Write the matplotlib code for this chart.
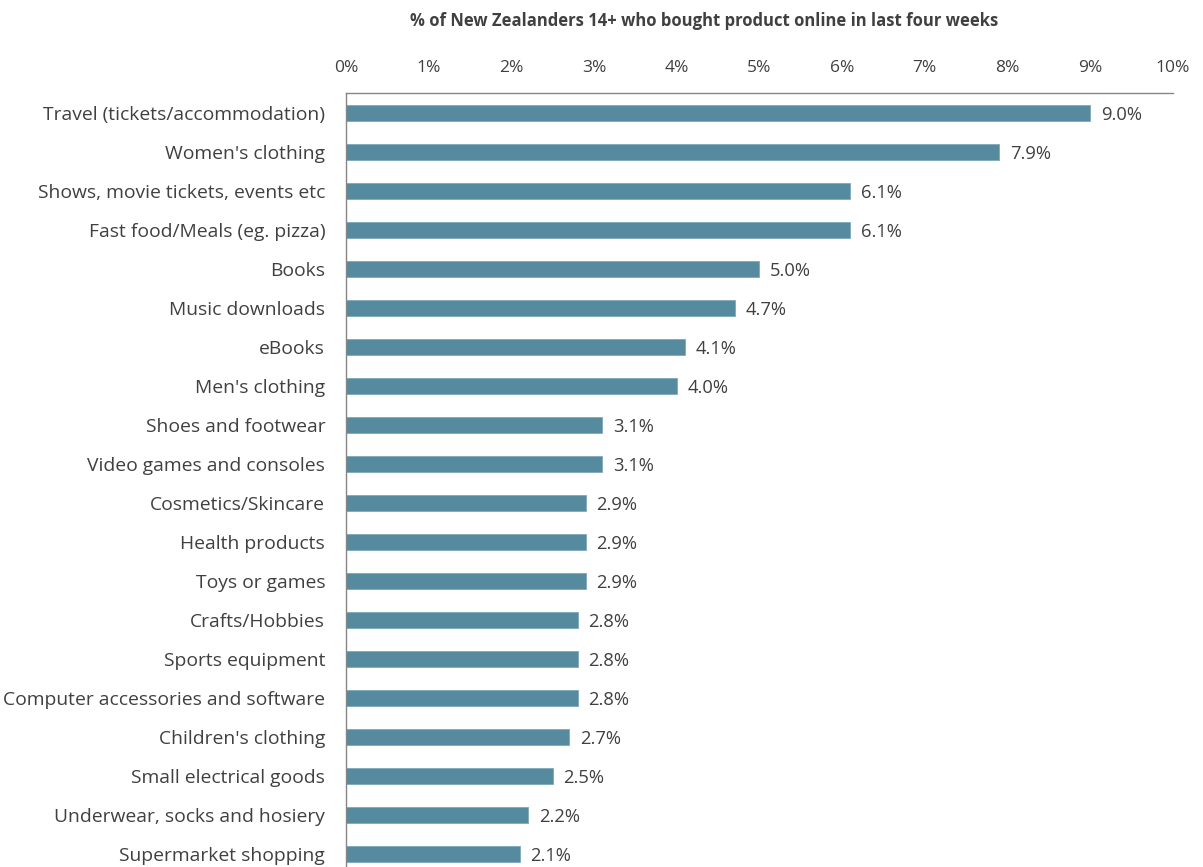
import matplotlib.pyplot as plt
import numpy as np

categories = [
    "Travel (tickets/accommodation)",
    "Women's clothing",
    "Shows, movie tickets, events etc",
    "Fast food/Meals (eg. pizza)",
    "Books",
    "Music downloads",
    "eBooks",
    "Men's clothing",
    "Shoes and footwear",
    "Video games and consoles",
    "Cosmetics/Skincare",
    "Health products",
    "Toys or games",
    "Crafts/Hobbies",
    "Sports equipment",
    "Computer accessories and software",
    "Children's clothing",
    "Small electrical goods",
    "Underwear, socks and hosiery",
    "Supermarket shopping",
]
values = [9.0, 7.9, 6.1, 6.1, 5.0, 4.7, 4.1, 4.0, 3.1, 3.1,
          2.9, 2.9, 2.9, 2.8, 2.8, 2.8, 2.7, 2.5, 2.2, 2.1]
ticks = list(range(0, 11))

plt.rcParams['font.family'] = ['Open Sans', 'DejaVu Sans']
txt = '#404040'

fig = plt.figure(figsize=(12.03, 8.67), dpi=100)
ax = fig.add_axes([0.2876, -0.008, 0.6874, 0.9007])

y = np.arange(len(categories))
ax.barh(y, values, height=0.41, color='#568A9F', edgecolor='#7FA9BA', linewidth=0.6)
ax.set_ylim(len(categories) - 0.5, -0.5)
ax.set_xlim(0, 10)

for yi, v in zip(y, values):
    ax.text(v + 0.13, yi + 0.05, f"{v:.1f}%", va='center', ha='left', fontsize=13.2, color=txt)

ax.xaxis.tick_top()
ax.set_xticks(ticks)
ax.set_xticklabels([f"{t}%" for t in ticks], fontsize=12.5, color=txt)
ax.set_yticks(y)
ax.set_yticklabels(categories, fontsize=13.9, color=txt)
ax.tick_params(length=0, pad=15)
ax.tick_params(axis='x', pad=12)

for s in ['right', 'bottom']:
    ax.spines[s].set_visible(False)
for s in ['top', 'left']:
    ax.spines[s].set_color('#868686')
    ax.spines[s].set_linewidth(1)

fig.text(0.5855, 0.976, "% of New Zealanders 14+ who bought product online in last four weeks",
         ha='center', va='center', fontsize=12, fontweight='bold', color=txt)

fig.savefig('out.png', dpi=100)
